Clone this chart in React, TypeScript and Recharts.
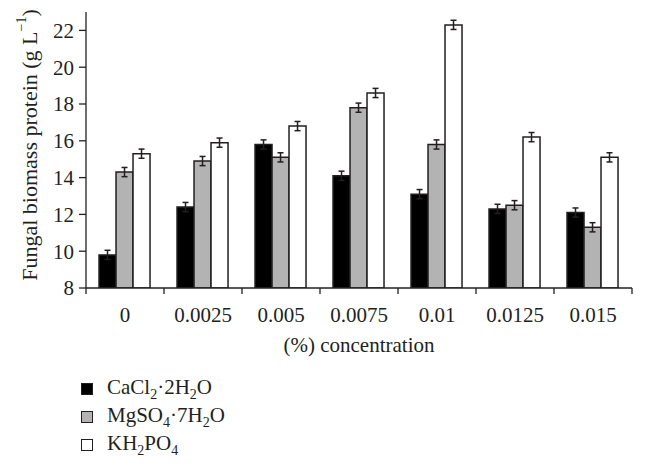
import React from 'react';
import { BarChart, Bar, XAxis, YAxis, ErrorBar, Label } from 'recharts';

const categories = ['0', '0.0025', '0.005', '0.0075', '0.01', '0.0125', '0.015'];
const cacl2 = [9.8, 12.4, 15.8, 14.1, 13.1, 12.3, 12.1];
const mgso4 = [14.3, 14.9, 15.1, 17.8, 15.8, 12.5, 11.3];
const kh2po4 = [15.3, 15.9, 16.8, 18.6, 22.3, 16.2, 15.1];
const cacl2Err = [0.25, 0.25, 0.25, 0.25, 0.25, 0.25, 0.25];
const mgso4Err = [0.25, 0.25, 0.25, 0.25, 0.25, 0.25, 0.25];
const kh2po4Err = [0.25, 0.25, 0.25, 0.25, 0.25, 0.25, 0.25];
const yTicks = [8, 10, 12, 14, 16, 18, 20, 22];
const boundaryTicks = [0, 1, 2, 3, 4, 5, 6, 7];

const FONT = '"Liberation Serif", "Times New Roman", serif';
const INK = '#231f20';
const FS = 21;

const data = categories.map((c, i) => ({
  name: c,
  pos: i + 0.5,
  cacl2: cacl2[i],
  mgso4: mgso4[i],
  kh2po4: kh2po4[i],
  cacl2Err: cacl2Err[i],
  mgso4Err: mgso4Err[i],
  kh2po4Err: kh2po4Err[i],
}));

const YTitle = (props: any) => {
  const vb = props.viewBox || {};
  const cx = 29;
  const cy = vb.y + vb.height / 2 - 5;
  return (
    <text
      x={cx}
      y={cy}
      transform={`rotate(-90 ${cx} ${cy})`}
      textAnchor="middle"
      dominantBaseline="central"
      fontFamily={FONT}
      fontSize={22}
      fill={INK}
    >
      Fungal biomass protein (g L
      <tspan baselineShift="super" fontSize={14}>−1</tspan>
      )
    </text>
  );
};

const XTitle = (props: any) => {
  const vb = props.viewBox || {};
  return (
    <text
      x={vb.x + vb.width / 2}
      y={345}
      textAnchor="middle"
      dominantBaseline="central"
      fontFamily={FONT}
      fontSize={FS}
      fill={INK}
    >
      (%) concentration
    </text>
  );
};

const swatch = (fill: string) => (
  <span
    style={{
      display: 'inline-block',
      width: 10,
      height: 10,
      background: fill,
      border: `1.5px solid ${INK}`,
      marginRight: 14,
      verticalAlign: 'middle',
    }}
  />
);

const subStyle: React.CSSProperties = { fontSize: 14, verticalAlign: 'sub', lineHeight: 0 };

export default function App() {
  return (
    <div style={{ position: 'relative', width: 646, height: 469, background: '#fff' }}>
      <style>{`body{margin:0}`}</style>
      <BarChart
        width={646}
        height={469}
        data={data}
        margin={{ top: 12, right: 14, left: 0, bottom: 122 }}
        barCategoryGap="16.7%"
        barGap={0}
      >
        <XAxis
          dataKey="name"
          tickLine={false}
          axisLine={{ stroke: INK, strokeWidth: 1.3 }}
          tick={{ fontFamily: FONT, fontSize: FS, fill: INK }}
          tickMargin={13}
          interval={0}
          height={59}
        >
          <Label content={<XTitle />} />
        </XAxis>
        {/* tick marks on the group boundaries; mirrored so it sits on the plot's bottom edge */}
        <XAxis
          xAxisId="edges"
          type="number"
          dataKey="pos"
          domain={[0, 7]}
          ticks={boundaryTicks}
          tickFormatter={() => ''}
          axisLine={false}
          tickLine={{ stroke: INK, strokeWidth: 1.3 }}
          tickSize={-6}
          height={10}
          orientation="bottom"
          mirror
        />
        <YAxis
          domain={[8, 23]}
          ticks={yTicks}
          width={86}
          allowDataOverflow
          axisLine={{ stroke: INK, strokeWidth: 1.3 }}
          tickLine={{ stroke: INK, strokeWidth: 1.3 }}
          tickSize={7}
          tickMargin={5}
          tick={{ fontFamily: FONT, fontSize: FS, fill: INK }}
        >
          <Label content={<YTitle />} />
        </YAxis>
        <Bar dataKey="cacl2" fill="#000000" stroke={INK} strokeWidth={1.5} isAnimationActive={false}>
          <ErrorBar dataKey="cacl2Err" width={3} stroke={INK} strokeWidth={1.5} />
        </Bar>
        <Bar dataKey="mgso4" fill="#b3b3b3" stroke={INK} strokeWidth={1.5} isAnimationActive={false}>
          <ErrorBar dataKey="mgso4Err" width={3} stroke={INK} strokeWidth={1.5} />
        </Bar>
        <Bar dataKey="kh2po4" fill="#ffffff" stroke={INK} strokeWidth={1.5} isAnimationActive={false}>
          <ErrorBar dataKey="kh2po4Err" width={3} stroke={INK} strokeWidth={1.5} />
        </Bar>
      </BarChart>
      <div
        style={{
          position: 'absolute',
          left: 81,
          top: 373,
          fontFamily: FONT,
          fontSize: FS,
          color: INK,
          lineHeight: '28px',
        }}
      >
        <div>
          {swatch('#000000')}CaCl<span style={subStyle}>2</span>·2H<span style={subStyle}>2</span>O
        </div>
        <div>
          {swatch('#b3b3b3')}MgSO<span style={subStyle}>4</span>·7H<span style={subStyle}>2</span>O
        </div>
        <div>
          {swatch('#ffffff')}KH<span style={subStyle}>2</span>PO<span style={subStyle}>4</span>
        </div>
      </div>
    </div>
  );
}
